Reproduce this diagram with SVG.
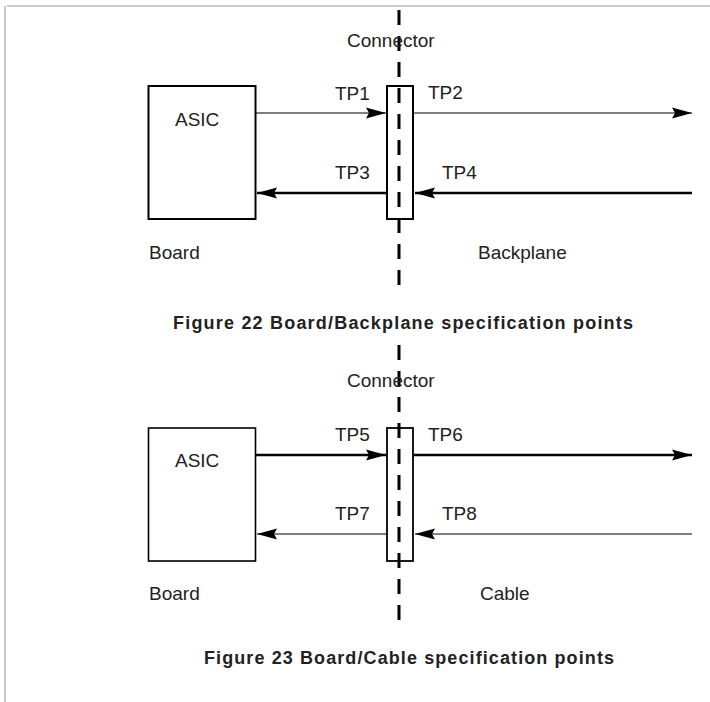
<svg xmlns="http://www.w3.org/2000/svg" width="710" height="702" viewBox="0 0 710 702">
<style>
text{font-family:"Liberation Sans",Arial,sans-serif;fill:#222}
.lbl{font-size:19px}
.cap{font-size:18px;font-weight:bold}
.box{fill:#fff;stroke:#000}
.dash{stroke:#000;stroke-width:3;stroke-dasharray:15 11;fill:none}
.thin{stroke:#000;stroke-width:1.2;fill:none}
.thick{stroke:#000;stroke-width:2.4;fill:none}
.frame{stroke:#bbb;stroke-width:1.5;fill:none}
</style>
<defs>
<marker id="ah" viewBox="0 0 20 12" refX="20" refY="6" markerWidth="20" markerHeight="12" markerUnits="userSpaceOnUse" orient="auto">
<path d="M0,0.5 L20,6 L0,11.5 L3,6 z" fill="#000"/>
</marker>
</defs>
<path class="frame" d="M5,6 V702 M7,6 H710"/>

<!-- Figure 22 -->
<g id="asic1"><rect class="box" x="148.5" y="86" width="107" height="133" stroke-width="2"/><text class="lbl" x="175" y="126">ASIC</text></g>
<g id="conn1"><rect class="box" x="387" y="86" width="26" height="133" stroke-width="2"/></g>
<g id="connectors1">
<line class="dash" x1="399" y1="10" x2="399" y2="290"/>
<line class="thin" x1="256" y1="113" x2="386" y2="113" marker-end="url(#ah)"/>
<line class="thin" x1="414" y1="113" x2="692" y2="113" marker-end="url(#ah)"/>
<line class="thick" x1="386" y1="193" x2="257" y2="193" marker-end="url(#ah)"/>
<line class="thick" x1="692" y1="193" x2="415" y2="193" marker-end="url(#ah)"/>
</g>
<g id="labels1">
<text class="lbl" x="347" y="47">Connector</text>
<text class="lbl" x="335" y="100">TP1</text>
<text class="lbl" x="428" y="99">TP2</text>
<text class="lbl" x="335" y="179">TP3</text>
<text class="lbl" x="442" y="179">TP4</text>
<text class="lbl" x="149" y="259">Board</text>
<text class="lbl" x="478" y="259">Backplane</text>
<text class="cap" x="173" y="329" textLength="460" lengthAdjust="spacing">Figure 22  Board/Backplane  specification points</text>
</g>

<!-- Figure 23 -->
<g id="asic2"><rect class="box" x="148.5" y="428" width="107" height="133" stroke-width="1.6"/><text class="lbl" x="175" y="467">ASIC</text></g>
<g id="conn2"><rect class="box" x="387" y="428" width="26" height="133" stroke-width="1.8"/></g>
<g id="connectors2">
<line class="dash" x1="399" y1="345" x2="399" y2="620"/>
<line class="thick" x1="256" y1="455" x2="386" y2="455" marker-end="url(#ah)"/>
<line class="thick" x1="414" y1="455" x2="692" y2="455" marker-end="url(#ah)"/>
<line class="thin" x1="386" y1="534" x2="257" y2="534" marker-end="url(#ah)"/>
<line class="thin" x1="692" y1="534" x2="415" y2="534" marker-end="url(#ah)"/>
</g>
<g id="labels2">
<text class="lbl" x="347" y="387">Connector</text>
<text class="lbl" x="335" y="441">TP5</text>
<text class="lbl" x="428" y="441">TP6</text>
<text class="lbl" x="335" y="520">TP7</text>
<text class="lbl" x="442" y="520">TP8</text>
<text class="lbl" x="149" y="600">Board</text>
<text class="lbl" x="480" y="600">Cable</text>
<text class="cap" x="204" y="664" textLength="410" lengthAdjust="spacing">Figure 23  Board/Cable specification points</text>
</g>
</svg>
